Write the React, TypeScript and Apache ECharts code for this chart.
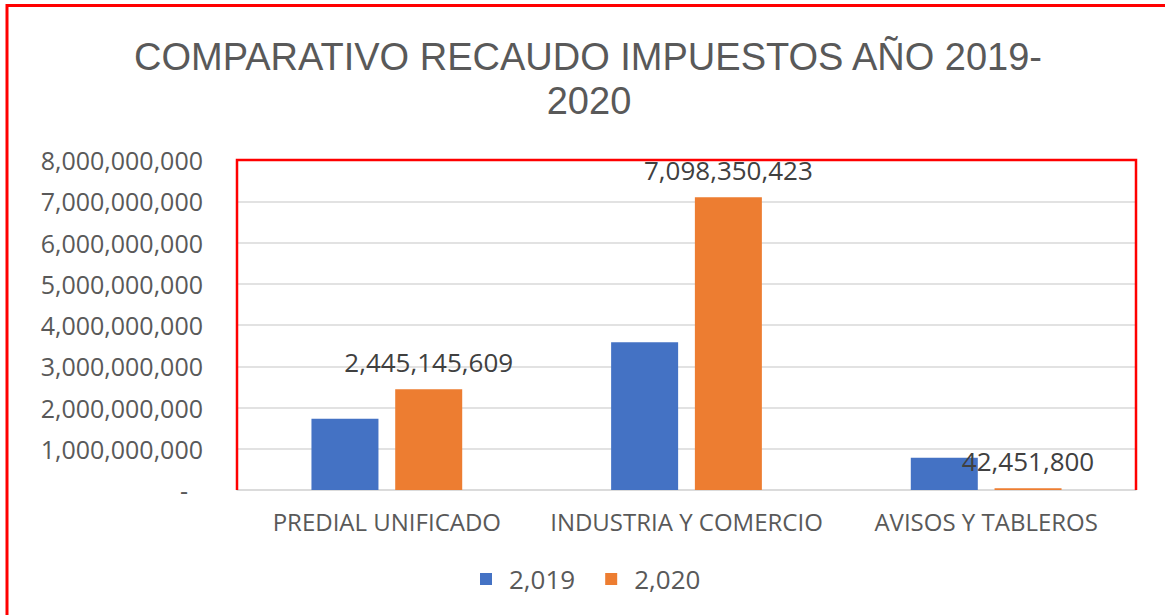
import React, { useEffect, useRef } from "react";
import * as echarts from "echarts";

const categories = ["PREDIAL UNIFICADO", "INDUSTRIA Y COMERCIO", "AVISOS Y TABLEROS"];
const seriesNames = ["2,019", "2,020"];
const values2019 = [1730000000, 3580000000, 780000000];
const values2020 = [2445145609, 7098350423, 42451800];
const titleLines = ["COMPARATIVO RECAUDO IMPUESTOS AÑO 2019-", "2020"];

const FONT = "'Open Sans', 'Noto Sans', sans-serif";
const TITLE_FONT = "'Liberation Sans', Arial, sans-serif";
const TEXT = "#595959";

export default function App() {
  const ref = useRef<HTMLDivElement>(null);
  useEffect(() => {
    if (!ref.current) return;
    const chart = echarts.init(ref.current, null, { renderer: "svg" });
    const fmt = (v: number) => v.toLocaleString("en-US");
    chart.setOption({
      animation: false,
      backgroundColor: "#ffffff",
      textStyle: { fontFamily: FONT },
      grid: { left: 237, top: 160, right: 29, bottom: 125 },
      legend: {
        data: seriesNames,
        left: 475,
        top: 561,
        itemWidth: 12,
        itemHeight: 12,
        itemGap: 30,
        icon: "rect",
        textStyle: { fontFamily: FONT, fontSize: 26, color: TEXT, padding: [0, 0, 0, 12] },
      },
      xAxis: {
        type: "category",
        data: categories,
        axisLine: { lineStyle: { color: "#d9d9d9", width: 1.5 } },
        axisTick: { show: false },
        axisLabel: { fontFamily: FONT, fontSize: 24, color: TEXT, margin: 19, interval: 0 },
      },
      yAxis: {
        type: "value",
        min: 0,
        max: 8000000000,
        interval: 1000000000,
        axisLine: { show: false },
        axisTick: { show: false },
        splitLine: { lineStyle: { color: "#d9d9d9", width: 1.5 } },
        axisLabel: {
          fontFamily: FONT,
          fontSize: 25,
          color: TEXT,
          margin: 34,
          formatter: (v: number) => (v === 0 ? "{dash|-}" : fmt(v)),
          rich: { dash: { fontFamily: FONT, fontSize: 25, color: TEXT, padding: [0, 15, 0, 0] } },
        },
      },
      series: [
        {
          name: seriesNames[0],
          type: "bar",
          data: values2019,
          barWidth: 67,
          barGap: "25%",
          itemStyle: { color: "#4472C4" },
        },
        {
          name: seriesNames[1],
          type: "bar",
          data: values2020,
          barWidth: 67,
          itemStyle: { color: "#ED7D31" },
          label: {
            show: true,
            position: "top",
            distance: 14,
            fontFamily: FONT,
            fontSize: 26,
            color: "#404040",
            formatter: (p: any) => fmt(p.value),
          },
        },
      ],
      graphic: [
        {
          type: "text",
          x: 588,
          y: 57,
          style: {
            text: titleLines[0],
            fontFamily: TITLE_FONT,
            fontSize: 38,
            lineHeight: 40,
            fill: TEXT,
            textAlign: "center",
            textVerticalAlign: "middle",
          },
        },
        {
          type: "text",
          x: 589,
          y: 101,
          style: {
            text: titleLines[1],
            fontFamily: TITLE_FONT,
            fontSize: 38,
            lineHeight: 40,
            fill: TEXT,
            textAlign: "center",
            textVerticalAlign: "middle",
          },
        },
        {
          type: "polyline",
          shape: { points: [[237, 490], [237, 160], [1136, 160], [1136, 490]] },
          style: { stroke: "#ff0000", lineWidth: 2.5, fill: "none" },
          z: 10,
        },
        {
          type: "polyline",
          shape: { points: [[7, 615], [7, 5.5], [1165, 5.5]] },
          style: { stroke: "#ff0000", lineWidth: 3, fill: "none" },
          z: 10,
        },
      ],
    });
    return () => chart.dispose();
  }, []);
  return (
    <div
      ref={ref}
      style={{ position: "absolute", left: 0, top: 0, width: 1165, height: 615 }}
    />
  );
}
